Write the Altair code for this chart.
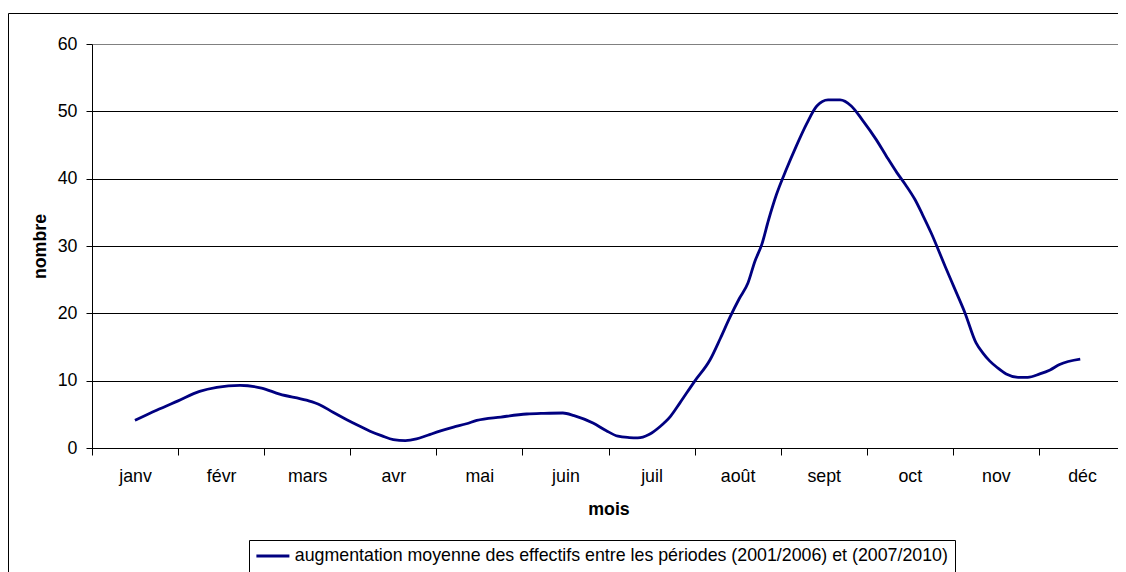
import json
import altair as alt
import pandas as pd

MONTHS = ["janv", "févr", "mars", "avr", "mai", "juin", "juil", "août", "sept", "oct", "nov", "déc"]
SERIES = "augmentation moyenne des effectifs entre les périodes (2001/2006) et (2007/2010)"

# position along the month axis (0 = janv ... 11 = déc) and value
POS = [0.00, 0.25, 0.50, 0.75, 0.95, 1.22, 1.47, 1.68, 1.99, 2.15, 2.30, 2.46, 2.60, 2.73, 2.87,
       3.00, 3.14, 3.27, 3.40, 3.54, 3.70, 3.85, 3.97, 4.25, 4.55, 4.75, 4.97, 5.10, 5.32, 5.47,
       5.61, 5.74, 5.84, 5.97, 6.10, 6.22, 6.33, 6.50, 6.68, 6.80, 6.91, 7.02, 7.12, 7.20, 7.28,
       7.36, 7.45, 7.56, 7.68, 7.80, 7.92, 8.05, 8.19, 8.32, 8.45, 8.61, 8.73, 8.85, 8.95, 9.06,
       9.15, 9.25, 9.41, 9.52, 9.64, 9.77, 9.85, 9.93, 10.02, 10.12, 10.26, 10.37, 10.51, 10.63,
       10.74, 10.98]
VALUES = [4.1, 5.6, 7.0, 8.4, 9.0, 9.3, 8.9, 8.0, 7.1, 6.4, 5.3, 4.2, 3.3, 2.5, 1.8,
          1.25, 1.1, 1.35, 1.9, 2.5, 3.1, 3.6, 4.1, 4.6, 5.05, 5.15, 5.2, 4.8, 3.7, 2.6,
          1.75, 1.55, 1.5, 2.0, 3.2, 4.7, 6.7, 9.9, 13.1, 16.3, 19.4, 22.2, 24.5, 27.7, 30.2,
          33.9, 37.6, 41.2, 44.8, 48.1, 50.8, 51.7, 51.7, 50.8, 48.7, 45.8, 43.3, 40.9, 39.1, 36.9,
          34.6, 31.9, 27.0, 23.7, 20.1, 15.6, 14.1, 12.9, 11.9, 11.0, 10.5, 10.5, 11.0, 11.6,
          12.4, 13.2]
Y_TICKS = [0, 10, 20, 30, 40, 50, 60]

FONT = "Liberation Sans"
FS = 17.8
PLOT_W = 1033
PLOT_H = 404

df = pd.DataFrame({"mois": POS, "nombre": VALUES, "serie": SERIES})

x_ticks = [i - 0.5 for i in range(len(MONTHS) + 1)]
label_expr = (
    f"datum.value < {len(MONTHS) - 1} ? "
    f"{json.dumps(MONTHS, ensure_ascii=False)}[round(datum.value + 0.5)] : ''"
)

line = alt.Chart(df).mark_line(strokeWidth=2.8, interpolate="monotone").encode(
    x=alt.X(
        "mois:Q",
        scale=alt.Scale(domain=[-0.5, len(MONTHS) - 0.5], nice=False, zero=False),
        axis=alt.Axis(
            values=x_ticks,
            labelExpr=label_expr,
            labelOffset=PLOT_W / len(MONTHS) / 2,
            labelFlush=False,
            labelOverlap=False,
            tickSize=7,
            labelPadding=12,
            grid=False,
            title="mois",
            titlePadding=16,
        ),
    ),
    y=alt.Y(
        "nombre:Q",
        scale=alt.Scale(domain=[0, 60], nice=False),
        axis=alt.Axis(
            values=Y_TICKS,
            tickSize=6,
            labelPadding=9,
            grid=True,
            gridColor={"condition": {"test": "datum.value === 60", "value": "#808080"}, "value": "#000000"},
            gridWidth=1,
            title="nombre",
            titlePadding=8,
        ),
    ),
    color=alt.Color(
        "serie:N",
        scale=alt.Scale(domain=[SERIES], range=["#000080"]),
        legend=alt.Legend(
            orient="none",
            legendX=157,
            legendY=496,
            direction="horizontal",
            title=None,
            symbolType="M-3,0L3,0",
            symbolSize=121,
            symbolOffset=8,
            symbolStrokeWidth=3,
            labelFontSize=FS,
            labelFont=FONT,
            labelColor="black",
            labelLimit=0,
            labelOffset=13,
            padding=7,
            strokeColor="black",
        ),
    ),
)

frame = alt.Chart(pd.DataFrame({"a": [0]})).mark_rect(
    filled=False, stroke="black", strokeWidth=1
).encode(
    x=alt.value(-83.5), x2=alt.value(PLOT_W + 10), y=alt.value(-30.5), y2=alt.value(560)
)

chart = alt.layer(frame, line).properties(
    width=PLOT_W,
    height=PLOT_H,
    autosize=alt.AutoSizeParams(type="none"),
    padding={"left": 84, "top": 36, "right": -7, "bottom": 124},
    background="white",
).configure_view(stroke="transparent").configure_axis(
    labelFont=FONT,
    labelFontSize=FS,
    labelColor="black",
    titleFont=FONT,
    titleFontSize=FS,
    titleFontWeight="bold",
    titleColor="black",
    domainColor="black",
    domainWidth=1,
    tickColor="black",
    tickWidth=1,
)

chart.save("out.html", embed_options={"renderer": "svg", "actions": False})
